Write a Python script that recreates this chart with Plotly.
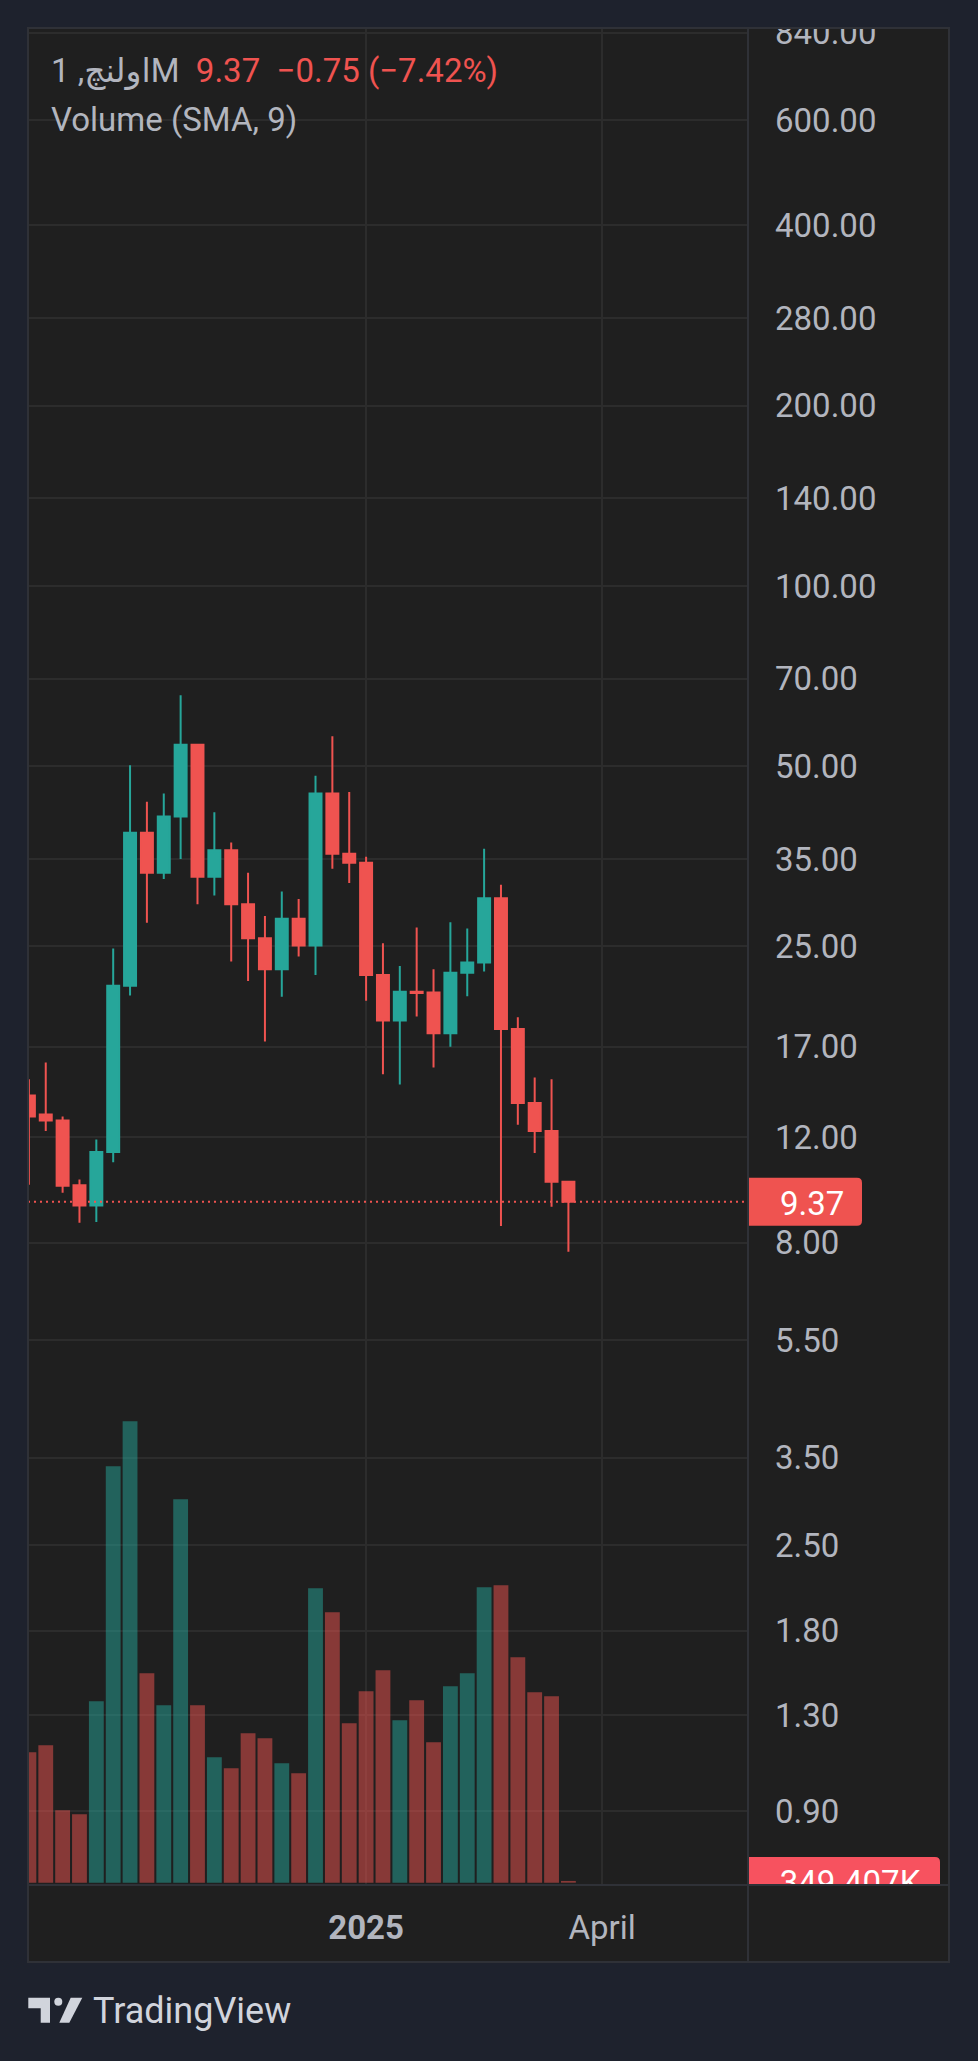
import math
import plotly.graph_objects as go

# weekly candles (index 0 = left edge)
bar_index = list(range(33))
opens = [14.1, 13.1, 12.8, 9.98, 9.23, 11.34, 21.5, 38.7, 33.2, 41.2, 54.3, 32.7, 36.2, 29.4, 25.8, 22.9, 27.8,
         25.1, 45.0, 35.7, 34.5, 22.4, 18.8, 21.0, 20.95, 17.9, 22.6, 23.5, 30.1, 18.2, 13.7, 12.3, 10.12]
highs = [15.0, 16.0, 13.0, 10.2, 11.9, 24.8, 50.2, 43.6, 45.0, 65.7, 54.5, 41.9, 37.3, 33.2, 28.1, 30.9, 30.0,
         48.2, 56.1, 45.3, 35.3, 25.3, 23.2, 26.9, 22.9, 27.45, 26.8, 36.4, 31.7, 19.05, 15.1, 15.0, 10.12]
lows = [10.0, 12.3, 9.7, 8.64, 8.67, 10.9, 20.7, 27.4, 32.4, 35.0, 29.4, 30.4, 23.6, 21.9, 17.35, 20.6, 24.05,
        22.4, 33.7, 31.9, 20.3, 15.3, 14.7, 19.1, 15.7, 17.0, 20.65, 22.7, 8.53, 12.6, 11.3, 9.19, 7.73]
closes = [13.0, 12.8, 9.96, 9.23, 11.34, 21.5, 38.7, 33.2, 41.2, 54.3, 32.7, 36.2, 29.4, 25.8, 22.9, 27.8, 25.1,
          45.0, 35.7, 34.5, 22.4, 18.8, 21.0, 20.9, 17.9, 22.6, 23.5, 30.1, 18.2, 13.7, 12.3, 10.12, 9.37]
volumes_m = [26.1, 27.5, 14.5, 13.7, 36.3, 83.3, 92.3, 41.9, 35.5, 76.7, 35.5, 25.1, 22.9, 29.9, 28.9, 23.9, 21.9,
             58.9, 54.1, 31.9, 38.3, 42.5, 32.5, 36.5, 28.1, 39.3, 41.9, 59.1, 59.5, 45.1, 38.1, 37.3, 0.349407]

price_ticks = [840, 600, 400, 280, 200, 140, 100, 70, 50, 35, 25, 17, 12, 8, 5.5, 3.5, 2.5, 1.8, 1.3, 0.9]
price_tick_text = ["%.2f" % v for v in price_ticks]
time_ticks = [20, 34]
time_tick_text = ["<b>2025</b>", "April"]

symbol = "اولنچ, 1M"
quote = "9.37&nbsp;&nbsp;−0.75 (−7.42%)"
volume_title = "Volume (SMA, 9)"
last_volume_text = "349.407K"

UP = "#26a69a"
DOWN = "#ef5350"
TXT = "#b2b5be"
OUTER = "#1e222d"
PANEL = "#1f1f1f"
GRID = "#2c2c2c"
BORDER = "#2f3137"
FONT = "Roboto, 'Noto Sans', 'DejaVu Sans', sans-serif"

W, H = 978, 2061
ML, MR, MT, MB = 28, 29, 28, 176
PW, PH = W - ML - MR, H - MT - MB
AXIS_X = 748          # price scale separator
BAR_PX = 16.86        # pixels per weekly bar
X_DOM = (AXIS_X - ML) / PW
X_RANGE = [-0.053, -0.053 + (AXIS_X - ML) / BAR_PX]
Y_RANGE = [-0.1694, 2.9318]
VOL_RANGE = [-0.46, -0.46 + PH * 0.2]


def px(x):
    return (x - ML) / PW


def py(y):
    return (MT + PH - y) / PH


def price_y(v):
    return MT + (Y_RANGE[1] - math.log10(v)) / (Y_RANGE[1] - Y_RANGE[0]) * PH


def vol_y(v):
    return MT + (VOL_RANGE[1] - v) / (VOL_RANGE[1] - VOL_RANGE[0]) * PH


def rounded_box(x0, x1, yc, hgt, r, color):
    y0, y1 = yc - hgt / 2, yc + hgt / 2
    path = (f"M {px(x0)},{py(y0)} L {px(x1 - r)},{py(y0)} Q {px(x1)},{py(y0)} {px(x1)},{py(y0 + r)} "
            f"L {px(x1)},{py(y1 - r)} Q {px(x1)},{py(y1)} {px(x1 - r)},{py(y1)} L {px(x0)},{py(y1)} Z")
    return dict(type="path", xref="paper", yref="paper", path=path, fillcolor=color,
                line=dict(width=0), layer="above")


def text_rect(x0, x1, yc, hgt, text, pos):
    return dict(type="rect", xref="paper", yref="paper", x0=px(x0), x1=px(x1),
                y0=py(yc + hgt / 2), y1=py(yc - hgt / 2), line=dict(width=0),
                fillcolor="rgba(0,0,0,0)", layer="above",
                label=dict(text=text, textposition=pos, padding=0,
                           font=dict(family=FONT, size=33, color="white")))


def rect(x0, x1, y0, y1, fill, line_color=None, lw=0, layer="above"):
    return dict(type="rect", xref="paper", yref="paper", x0=px(x0), x1=px(x1), y0=py(y1), y1=py(y0),
                fillcolor=fill, line=dict(width=lw, color=line_color or fill), layer=layer)


def line(x0, y0, x1, y1, color=BORDER, lw=2):
    return dict(type="line", xref="paper", yref="paper", x0=px(x0), y0=py(y0), x1=px(x1), y1=py(y1),
                line=dict(color=color, width=lw), layer="above")


vol_colors = ["rgba(38,166,154,0.5)" if c >= o else "rgba(239,83,80,0.5)" for o, c in zip(opens, closes)]

fig = go.Figure()
fig.add_trace(go.Bar(x=bar_index, y=volumes_m, yaxis="y2", marker=dict(color=vol_colors, line=dict(width=0)),
                     width=0.88, hoverinfo="skip", showlegend=False))
fig.add_trace(go.Candlestick(x=bar_index, open=opens, high=highs, low=lows, close=closes,
                             increasing=dict(line=dict(color=UP, width=2), fillcolor=UP),
                             decreasing=dict(line=dict(color=DOWN, width=2), fillcolor=DOWN),
                             whiskerwidth=0, hoverinfo="skip", showlegend=False))
fig.add_trace(go.Scatter(x=X_RANGE, y=[closes[-1], closes[-1]], mode="lines",
                         line=dict(color=DOWN, width=2, dash="2px,4px"), hoverinfo="skip", showlegend=False))

yc_price = price_y(closes[-1])
yc_vol = vol_y(volumes_m[-1])

# TradingView mark
logo_bar = [(28.3, 1997.7), (50, 1997.7), (50, 2022.7), (40.7, 2022.7), (40.7, 2008.3), (28.3, 2008.3)]
logo_slash = [(70.7, 1997.7), (82.3, 1997.7), (69.3, 2022.7), (59.3, 2022.7)]


def poly(pts, color):
    path = "M " + " L ".join(f"{px(x)},{py(y)}" for x, y in pts) + " Z"
    return dict(type="path", xref="paper", yref="paper", path=path, fillcolor=color,
                line=dict(width=0), layer="above")


shapes = [
    rect(28, 949, 28, 1962, PANEL, layer="below"),
    rounded_box(AXIS_X, 862, yc_price, 48, 5, DOWN),
    text_rect(777, 862, yc_price, 48, "9.37", "middle left"),
    rounded_box(AXIS_X, 940, yc_vol, 48, 5, "#f7525f"),
    text_rect(760, 940, yc_vol, 48, last_volume_text, "middle center"),
    rect(AXIS_X, 949, 1885, 1962, PANEL),
    rect(AXIS_X - 10, 978, 0, 27, OUTER),
    rect(28, 949, 28, 1962, "rgba(0,0,0,0)", BORDER, 2),
    line(28, 1885, 949, 1885),
    line(AXIS_X, 28, AXIS_X, 1962),
    poly(logo_bar, "#d1d4dc"),
    dict(type="circle", xref="paper", yref="paper", x0=px(54.3), x1=px(62.3), y0=py(2005.7), y1=py(1997.7),
         fillcolor="#d1d4dc", line=dict(width=0), layer="above"),
    poly(logo_slash, "#d1d4dc"),
]

annotations = [
    dict(xref="paper", yref="paper", x=px(49), y=py(71), xanchor="left", yanchor="middle", showarrow=False,
         text=f"{symbol}&nbsp;&nbsp;<span style='color:{DOWN}'>{quote}</span>",
         font=dict(family=FONT, size=33, color=TXT)),
    dict(xref="paper", yref="paper", x=px(49), y=py(119), xanchor="left", yanchor="middle", showarrow=False,
         text=volume_title, font=dict(family=FONT, size=33, color=TXT)),
    dict(xref="paper", yref="paper", x=px(91), y=py(2011), xanchor="left", yanchor="middle", showarrow=False,
         text="TradingView", font=dict(family=FONT, size=36, color="#d1d4dc")),
]

fig.update_layout(
    width=W, height=H,
    margin=dict(l=ML, r=MR, t=MT, b=MB, pad=0),
    paper_bgcolor=OUTER, plot_bgcolor=PANEL,
    showlegend=False, hovermode=False, boxgap=0.29, boxgroupgap=0,
    xaxis=dict(domain=[0, X_DOM], range=X_RANGE, tickvals=time_ticks, ticktext=time_tick_text,
               showgrid=True, gridcolor=GRID, gridwidth=1.5, zeroline=False, showline=False, ticks="",
               ticklabelstandoff=20, tickfont=dict(family=FONT, size=33, color=TXT),
               rangeslider=dict(visible=False), fixedrange=True),
    yaxis=dict(type="log", range=Y_RANGE, side="right", anchor="x", tickvals=price_ticks,
               ticktext=price_tick_text, showgrid=True, gridcolor=GRID, gridwidth=1.5, zeroline=False,
               showline=False, ticks="", ticklabelstandoff=26, tickfont=dict(family=FONT, size=33, color=TXT),
               fixedrange=True),
    yaxis2=dict(overlaying="y", range=VOL_RANGE, visible=False, fixedrange=True),
    shapes=shapes,
    annotations=annotations,
)

fig.write_html("out.html", config={"displayModeBar": False},
               post_script="document.body.style.margin='0';document.body.style.background='#1e222d';")
